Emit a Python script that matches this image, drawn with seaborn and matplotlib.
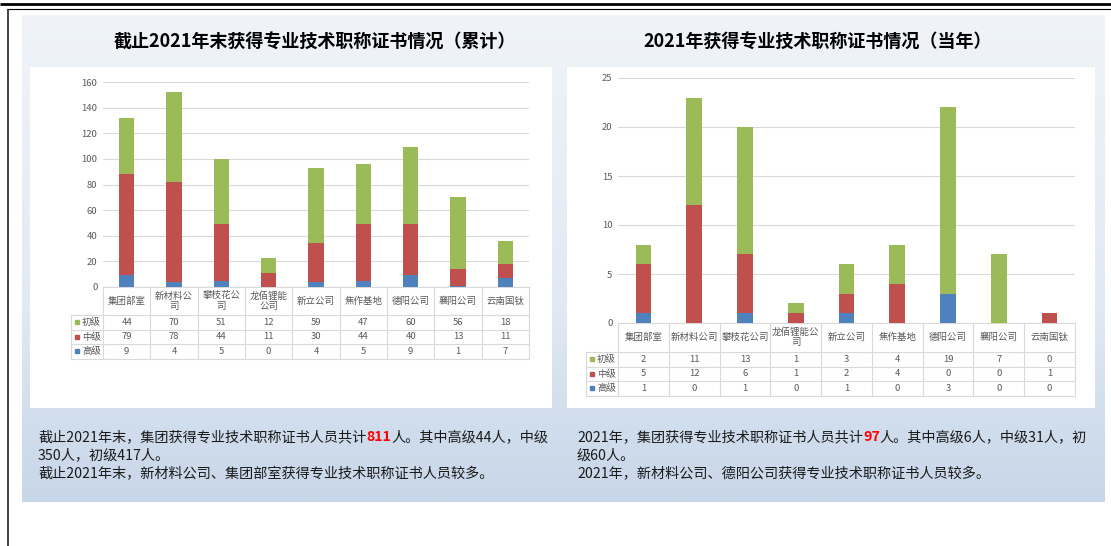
import numpy as np
import matplotlib
matplotlib.use('Agg')
import matplotlib.pyplot as plt
from matplotlib.patches import Rectangle
from matplotlib.colors import LinearSegmentedColormap
from matplotlib.transforms import blended_transform_factory
import seaborn as sns

sns.set_theme(style='white')
plt.rcParams['font.family'] = ['Noto Sans CJK SC', 'DejaVu Sans']

# --- 数据 ---
companies = ['集团部室', '新材料公司', '攀枝花公司', '龙佰锂能公司', '新立公司',
             '焦作基地', '德阳公司', '襄阳公司', '云南国钛']
levels = ['初级', '中级', '高级']

# 累计 (截止2021年末)
cum_primary = [44, 70, 51, 12, 59, 47, 60, 56, 18]
cum_middle = [79, 78, 44, 11, 30, 44, 40, 13, 11]
cum_senior = [9, 4, 5, 0, 4, 5, 9, 1, 7]

# 当年 (2021年)
year_primary = [2, 11, 13, 1, 3, 4, 19, 7, 0]
year_middle = [5, 12, 6, 1, 2, 4, 0, 0, 1]
year_senior = [1, 0, 1, 0, 1, 0, 3, 0, 0]

title_left = '截止2021年末获得专业技术职称证书情况（累计）'
title_right = '2021年获得专业技术职称证书情况（当年）'

GREEN, RED, BLUE = '#9BBB59', '#C0504D', '#4F81BD'
GRID, TXT = '#D9D9D9', '#595959'

W, H = 1111, 546
fig = plt.figure(figsize=(W / 100, H / 100), dpi=100)


def px_axes(x0, y0, x1, y1):
    return fig.add_axes([x0 / W, 1 - y1 / H, (x1 - x0) / W, (y1 - y0) / H])


# 背景画布 (像素坐标)
bg = fig.add_axes([0, 0, 1, 1])
panel_cmap = LinearSegmentedColormap.from_list(
    'panel', [(0, '#F0F4F9'), (0.6, '#E1E9F3'), (0.85, '#D0DDEC'), (1, '#C8D6E9')])
grad = np.linspace(0, 1, 256)[:, None]
bg.imshow(grad, extent=(22, 1105, 502, 15), cmap=panel_cmap, aspect='auto', zorder=0)
bg.add_patch(Rectangle((30, 67), 522, 341, facecolor='white', edgecolor='none', zorder=1))
bg.add_patch(Rectangle((567, 67), 528, 341, facecolor='white', edgecolor='none', zorder=1))
bg.plot([0, W], [4, 4], color='black', lw=2.0, solid_capstyle='butt')
bg.plot([7, W], [8.5, 8.5], color='black', lw=0.8, solid_capstyle='butt')
bg.plot([7.5, 7.5], [8.5, H], color='#333333', lw=1.3, solid_capstyle='butt')
bg.set_xlim(0, W)
bg.set_ylim(H, 0)
bg.axis('off')

bg.text(315, 42, title_left, ha='center', va='center', fontsize=13, weight='bold', color='black')
bg.text(818, 42, title_right, ha='center', va='center', fontsize=13, weight='bold', color='black')


def wrap_label(s, n):
    return '\n'.join(s[i:i + n] for i in range(0, len(s), n))


def draw_chart(ax, primary, middle, senior, ymax, ystep, bar_w, wrap, header_px, row_px, legend_px):
    primary, middle, senior = np.array(primary), np.array(middle), np.array(senior)
    # 堆叠柱: 先画总高, 再覆盖
    for vals, col in [(primary + middle + senior, GREEN), (middle + senior, RED), (senior, BLUE)]:
        sns.barplot(x=companies, y=vals, color=col, width=bar_w, saturation=1,
                    linewidth=0, errorbar=None, ax=ax, zorder=3)
    ax.set_xlim(-0.5, 8.5)
    ax.set_ylim(0, ymax)
    ax.set_yticks(np.arange(0, ymax + 1, ystep))
    ax.yaxis.grid(True, color=GRID, lw=0.8)
    ax.set_axisbelow(True)
    ax.set_xlabel('')
    ax.set_ylabel('')
    ax.tick_params(axis='x', length=0, labelbottom=False)
    ax.tick_params(axis='y', length=0, pad=4, labelsize=6.8, labelcolor=TXT)
    ax.set_facecolor('none')
    for sp in ax.spines.values():
        sp.set_visible(False)

    # 数据表
    pos = ax.get_position()
    ax_h = pos.height * H
    slot_px = pos.width * W / 9
    trans = blended_transform_factory(ax.transData, ax.transAxes)
    hb = -header_px / ax_h
    rows_y = [hb - k * row_px / ax_h for k in range(4)]
    leg_x = -0.5 - legend_px / slot_px
    kw = dict(color=GRID, lw=0.8, transform=trans, clip_on=False)
    ax.plot([-0.5, 8.5], [0, 0], **kw)
    for yb in rows_y:
        ax.plot([leg_x, 8.5], [yb, yb], **kw)
    for k in range(10):
        ax.plot([k - 0.5, k - 0.5], [0, rows_y[-1]], **kw)
    ax.plot([leg_x, leg_x], [rows_y[0], rows_y[-1]], **kw)

    for i, c in enumerate(companies):
        ax.text(i, hb / 2, wrap_label(c, wrap), ha='center', va='center', fontsize=6.8,
                color=TXT, transform=trans, linespacing=1.15, clip_on=False)
    table_rows = [(levels[0], primary, GREEN), (levels[1], middle, RED), (levels[2], senior, BLUE)]
    for r, (lab, vals, col) in enumerate(table_rows):
        yc = (rows_y[r] + rows_y[r + 1]) / 2
        ax.plot([leg_x + 6 / slot_px], [yc], marker='s', ms=3.3, color=col, transform=trans,
                clip_on=False, lw=0)
        ax.text(-0.5 - 2 / slot_px, yc, lab, ha='right', va='center', fontsize=6.8,
                color=TXT, transform=trans)
        for i, v in enumerate(vals):
            ax.text(i, yc, str(v), ha='center', va='center', fontsize=6.8,
                    color=TXT, transform=trans)


ax_l = px_axes(103, 82, 529, 287)
draw_chart(ax_l, cum_primary, cum_middle, cum_senior, 160, 20, 0.33, 4,
           header_px=28, row_px=14.5, legend_px=32)
ax_r = px_axes(618, 78, 1075, 323)
draw_chart(ax_r, year_primary, year_middle, year_senior, 25, 5, 0.31, 5,
           header_px=29, row_px=14.5, legend_px=32)

# --- 文字说明 ---
renderer = fig.canvas.get_renderer()


def rich_line(x, y, parts, size=10.2):
    for s, col, wt in parts:
        t = bg.text(x, y, s, color=col, fontsize=size, weight=wt, ha='left', va='center')
        bb = t.get_window_extent(renderer)
        x = bg.transData.inverted().transform((bb.x1, bb.y0))[0]


DARK = '#1A1A1A'
cum_total = sum(cum_primary) + sum(cum_middle) + sum(cum_senior)
year_total = sum(year_primary) + sum(year_middle) + sum(year_senior)

rich_line(38, 437, [('截止2021年末，集团获得专业技术职称证书人员共计', DARK, 'normal'),
                    (str(cum_total), 'red', 'bold'),
                    (f'人。其中高级{sum(cum_senior)}人，中级', DARK, 'normal')])
rich_line(38, 455.5, [(f'{sum(cum_middle)}人，初级{sum(cum_primary)}人。', DARK, 'normal')])
rich_line(38, 474, [('截止2021年末，新材料公司、集团部室获得专业技术职称证书人员较多。', DARK, 'normal')])

rich_line(577, 437, [('2021年，集团获得专业技术职称证书人员共计', DARK, 'normal'),
                     (str(year_total), 'red', 'bold'),
                     (f'人。其中高级{sum(year_senior)}人，中级{sum(year_middle)}人，初', DARK, 'normal')])
rich_line(577, 455.5, [(f'级{sum(year_primary)}人。', DARK, 'normal')])
rich_line(577, 474, [('2021年，新材料公司、德阳公司获得专业技术职称证书人员较多。', DARK, 'normal')])

fig.savefig('out.png', dpi=100, facecolor='white')
